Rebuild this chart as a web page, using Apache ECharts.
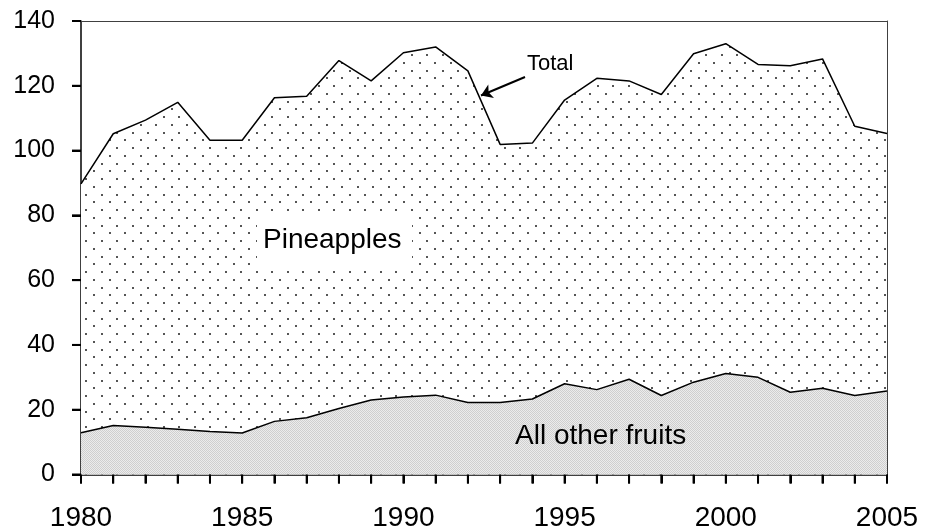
<!DOCTYPE html>
<html>
<head>
<meta charset="utf-8">
<script src="https://cdn.jsdelivr.net/npm/echarts@6/dist/echarts.min.js"></script>
<style>
  html, body { margin: 0; padding: 0; background: #fff; }
  #chart { width: 937px; height: 529px; }
</style>
</head>
<body>
<div id="chart"></div>
<script>
// years on the x axis
var years = ['1980', '1981', '1982', '1983', '1984', '1985', '1986', '1987', '1988', '1989',
             '1990', '1991', '1992', '1993', '1994', '1995', '1996', '1997', '1998', '1999',
             '2000', '2001', '2002', '2003', '2004', '2005'];
// total (pineapples + all other fruits)
var totalValues = [89.7, 105.2, 109.4, 114.9, 103.2, 103.2, 116.3, 116.8, 127.8, 121.5,
                   130.2, 132.0, 124.6, 101.9, 102.3, 115.6, 122.3, 121.5, 117.3, 129.9,
                   133.0, 126.6, 126.2, 128.3, 107.5, 105.3];
// all other fruits
var otherValues = [12.9, 15.1, 14.6, 14.0, 13.3, 12.8, 16.4, 17.5, 20.4, 23.0,
                   23.9, 24.5, 22.2, 22.2, 23.3, 28.0, 26.2, 29.4, 24.4, 28.5,
                   31.2, 30.0, 25.4, 26.6, 24.4, 25.8];
var yTicks = [0, 20, 40, 60, 80, 100, 120, 140];

var FONT = '"Liberation Sans", Arial, sans-serif';
var TICK_LEN = 9;

// dotted fill (pineapples area)
function dotPattern() {
    var c = document.createElement('canvas');
    c.width = 31;
    c.height = 31;
    var ctx = c.getContext('2d');
    ctx.fillStyle = '#fff';
    ctx.fillRect(0, 0, 31, 31);
    ctx.fillStyle = '#555';
    var pts = [[0, 0], [16, 0], [8, 8], [23, 8], [0, 15], [16, 15], [8, 23], [23, 23]];
    pts.forEach(function (p) {
        ctx.fillRect(p[0], p[1], 2, 2);
    });
    return c;
}

// dithered light grey (other fruits area)
function greyPattern() {
    var c = document.createElement('canvas');
    c.width = 2;
    c.height = 2;
    var ctx = c.getContext('2d');
    ctx.fillStyle = '#ececec';
    ctx.fillRect(0, 0, 2, 2);
    ctx.fillStyle = '#cfcfcf';
    ctx.fillRect(0, 0, 1, 1);
    ctx.fillRect(1, 1, 1, 1);
    return c;
}

// text labels inside the plot
function labelGraphics() {
    return [
        {
            type: 'rect',
            shape: { x: 257, y: 215, width: 155, height: 53 },
            style: { fill: '#fff' },
            z: 10
        },
        {
            type: 'text',
            x: 263,
            y: 240,
            style: { text: 'Pineapples', font: '28px ' + FONT, fill: '#000', verticalAlign: 'middle' },
            z: 11
        },
        {
            type: 'text',
            x: 515,
            y: 436,
            style: { text: 'All other fruits', font: '28px ' + FONT, fill: '#000', verticalAlign: 'middle' },
            z: 11
        },
        {
            type: 'text',
            x: 527,
            y: 64,
            style: { text: 'Total', font: '22px ' + FONT, fill: '#000', verticalAlign: 'middle' },
            z: 11
        }
    ];
}

var chart = echarts.init(document.getElementById('chart'));

var option = {
    animation: false,
    grid: {
        left: 81,
        right: 50,
        top: 21,
        bottom: 54.5,
        outerBoundsMode: 'none',
        containLabel: false
    },
    xAxis: [
        {
            type: 'category',
            data: years,
            boundaryGap: false,
            axisLine: { show: true, onZero: false, lineStyle: { color: '#000', width: 1.5 } },
            axisTick: { show: true, interval: 0, length: TICK_LEN, lineStyle: { color: '#000', width: 2 } },
            splitLine: { show: false },
            axisLabel: {
                interval: 4,
                fontFamily: FONT,
                fontSize: 28,
                color: '#000',
                margin: 30
            }
        },
        {
            // top frame line
            type: 'category',
            data: years,
            position: 'top',
            boundaryGap: false,
            axisLine: { show: true, onZero: false, lineStyle: { color: '#404040', width: 1 } },
            axisTick: { show: false },
            axisLabel: { show: false },
            splitLine: { show: false }
        }
    ],
    yAxis: [
        {
            type: 'value',
            min: yTicks[0],
            max: yTicks[yTicks.length - 1],
            interval: 20,
            axisLine: { show: true, lineStyle: { color: '#000', width: 1.5 } },
            axisTick: { show: true, length: TICK_LEN, lineStyle: { color: '#000', width: 2 } },
            splitLine: { show: false },
            axisLabel: {
                fontFamily: FONT,
                fontSize: 25,
                color: '#000',
                margin: 26
            }
        },
        {
            // right frame line
            type: 'value',
            position: 'right',
            min: yTicks[0],
            max: yTicks[yTicks.length - 1],
            interval: 20,
            axisLine: { show: true, lineStyle: { color: '#404040', width: 1 } },
            axisTick: { show: false },
            axisLabel: { show: false },
            splitLine: { show: false }
        }
    ],
    series: [
        {
            name: 'Total',
            type: 'line',
            data: totalValues,
            symbol: 'none',
            lineStyle: { color: '#000', width: 1.5 },
            areaStyle: { color: { image: dotPattern(), repeat: 'repeat' }, opacity: 1 },
            z: 2,
            markLine: {
                silent: true,
                symbol: ['none', 'arrow'],
                symbolSize: 11,
                label: { show: false },
                lineStyle: { color: '#000', width: 2, type: 'solid' },
                data: [[{ x: 525, y: 77 }, { x: 481, y: 95.5 }]]
            }
        },
        {
            name: 'All other fruits',
            type: 'line',
            data: otherValues,
            symbol: 'none',
            lineStyle: { color: '#000', width: 1.5 },
            areaStyle: { color: { image: greyPattern(), repeat: 'repeat' }, opacity: 1 },
            z: 3
        }
    ],
    graphic: labelGraphics()
};

chart.setOption(option);

// tick marks placed through the chart's own scales
var tickStyle = { stroke: '#000', lineWidth: 2 };
var y0 = chart.convertToPixel({ yAxisIndex: 0 }, yTicks[0]);
var x0 = chart.convertToPixel({ xAxisIndex: 0 }, years[0]);
var ticks = [];
years.forEach(function (yr) {
    var x = chart.convertToPixel({ xAxisIndex: 0 }, yr);
    ticks.push({ type: 'line', shape: { x1: x, y1: y0, x2: x, y2: y0 + TICK_LEN }, style: tickStyle, z: 20 });
});
yTicks.forEach(function (v) {
    var y = chart.convertToPixel({ yAxisIndex: 0 }, v);
    ticks.push({ type: 'line', shape: { x1: x0 - TICK_LEN, y1: y, x2: x0, y2: y }, style: tickStyle, z: 20 });
});
chart.setOption({ graphic: labelGraphics().concat(ticks) });
</script>
</body>
</html>
